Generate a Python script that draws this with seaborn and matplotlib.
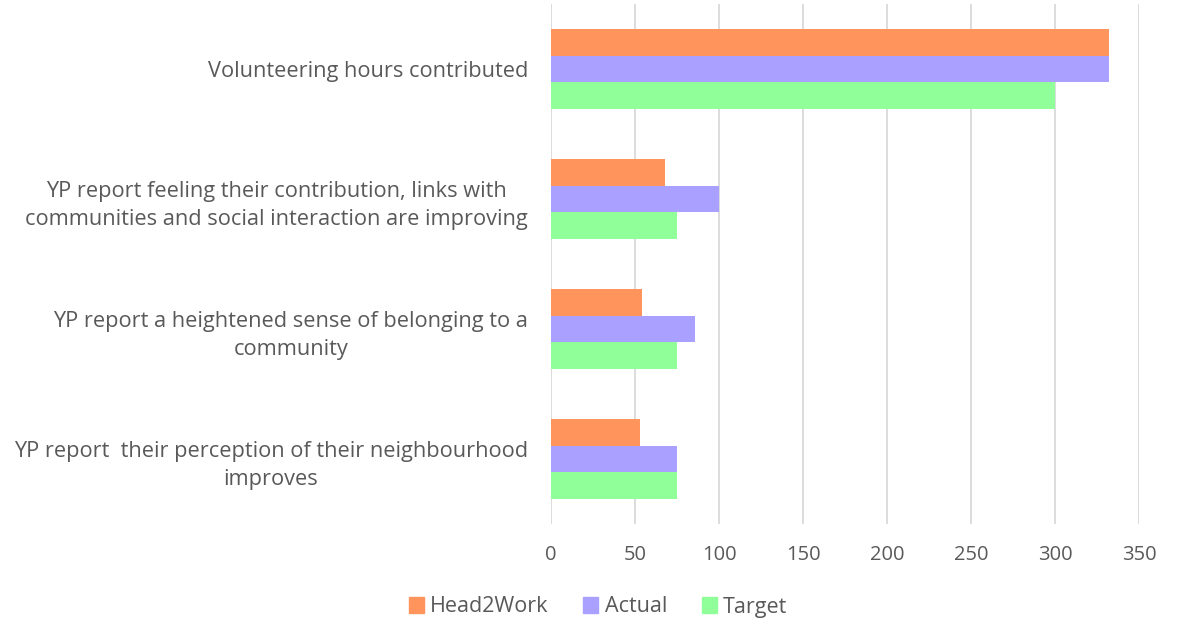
import matplotlib
matplotlib.use("Agg")
import matplotlib.pyplot as plt
import seaborn as sns
import pandas as pd

categories = [
    "Volunteering hours contributed",
    "YP report feeling their contribution, links with\ncommunities and social interaction are improving",
    "YP report a heightened sense of belonging to a\ncommunity",
    "YP report  their perception of their neighbourhood\nimproves",
]
series_names = ["Head2Work", "Actual", "Target"]
head2work = [332, 68, 54, 53]
actual = [332, 100, 86, 75]
target = [300, 75, 75, 75]
x_ticks = [0, 50, 100, 150, 200, 250, 300, 350]

colors = ["#FF955C", "#AAA0FF", "#90FF99"]
text_color = "#595959"

rows = []
for name, vals in zip(series_names, [head2work, actual, target]):
    for cat, v in zip(categories, vals):
        rows.append({"category": cat, "series": name, "value": v})
df = pd.DataFrame(rows)

sns.set_theme(style="white")
plt.rcParams["font.family"] = ["Open Sans", "DejaVu Sans"]

fig = plt.figure(figsize=(11.85, 6.21), dpi=100)
ax = fig.add_axes([551 / 1185, 1 - 524 / 621, (1139 - 551) / 1185, 520 / 621])

sns.barplot(
    data=df, y="category", x="value", hue="series",
    order=categories, hue_order=series_names,
    palette=colors, orient="h", width=0.62, gap=0,
    saturation=1, edgecolor="none", linewidth=0, ax=ax,
)

ax.set_xlim(0, 350)
ax.set_xticks(x_ticks)
ax.set_xticklabels([str(t) for t in x_ticks])
ax.xaxis.grid(True, color="#D9D9D9", linewidth=1.3)
ax.yaxis.grid(False)
ax.set_axisbelow(True)
for s in ax.spines.values():
    s.set_visible(False)
ax.set_xlabel("")
ax.set_ylabel("")
ax.tick_params(axis="x", length=0, colors=text_color, labelsize=14.5, pad=15)
ax.tick_params(axis="y", length=0, colors=text_color, labelsize=15.7, pad=16.5)
for lbl in ax.get_yticklabels():
    lbl.set_multialignment("center")
    lbl.set_linespacing(1.45)

ax.legend_.remove()
handles = [plt.Rectangle((0, 0), 1, 1, color=c) for c in colors]
leg = fig.legend(
    handles, series_names, loc="center", bbox_to_anchor=(598 / 1185, 1 - 607 / 621),
    ncol=3, frameon=False, fontsize=15.5, handlelength=0.7, handleheight=0.7,
    handletextpad=0.3, columnspacing=1.6,
)
for t in leg.get_texts():
    t.set_color(text_color)

fig.savefig("out.png", dpi=100)
